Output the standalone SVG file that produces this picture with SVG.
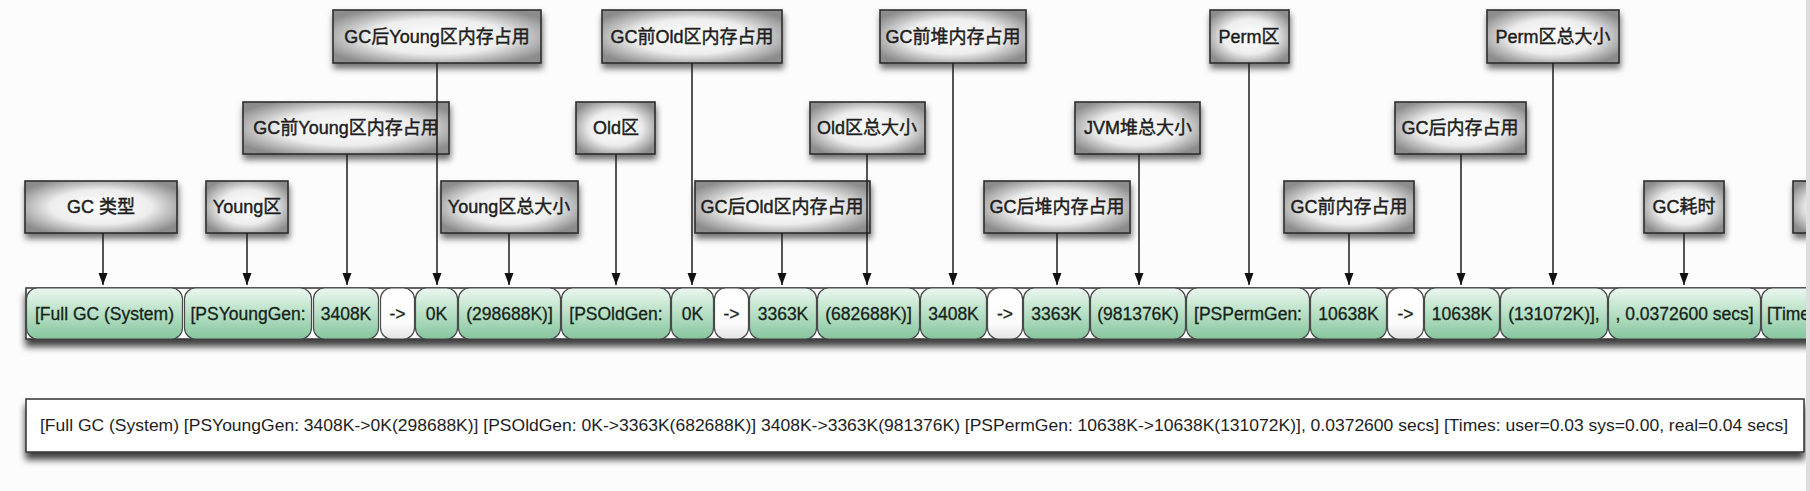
<svg xmlns="http://www.w3.org/2000/svg" width="1810" height="491" viewBox="0 0 1810 491">
<defs>
  <radialGradient id="boxGrad" cx="0.5" cy="0.5" r="0.6">
    <stop offset="0" stop-color="#ffffff"/>
    <stop offset="0.55" stop-color="#ededed"/>
    <stop offset="1" stop-color="#8c8c8c"/>
  </radialGradient>
  <linearGradient id="pillGrad" x1="0" y1="0" x2="0" y2="1">
    <stop offset="0" stop-color="#ecf7f0"/>
    <stop offset="0.35" stop-color="#c6e7d1"/>
    <stop offset="1" stop-color="#86c59d"/>
  </linearGradient>
  <linearGradient id="whiteGrad" x1="0" y1="0" x2="0" y2="1">
    <stop offset="0" stop-color="#ffffff"/>
    <stop offset="0.7" stop-color="#fbfbfb"/>
    <stop offset="1" stop-color="#e4e4e4"/>
  </linearGradient>
  <filter id="shadow" x="-10%" y="-20%" width="120%" height="160%">
    <feDropShadow dx="1" dy="5" stdDeviation="3" flood-color="#000" flood-opacity="0.55"/>
  </filter>
  <filter id="rowShadow" x="-2%" y="-20%" width="104%" height="160%">
    <feDropShadow dx="0" dy="7" stdDeviation="3.5" flood-color="#000" flood-opacity="0.75"/>
  </filter>
  <marker id="arrow" markerUnits="userSpaceOnUse" markerWidth="12" markerHeight="10" refX="12" refY="5" orient="auto" viewBox="0 0 12 10">
    <path d="M0,0.5 L12,5 L0,9.5 z" fill="#111"/>
  </marker>
  <clipPath id="page"><rect x="0" y="0" width="1806" height="491"/></clipPath>
  <style>
    .box { fill: url(#boxGrad); stroke: #2e2e2e; stroke-width: 1.6; filter: url(#shadow); }
    .lbl { font-family: "Liberation Sans", "Noto Sans CJK SC", sans-serif; font-size: 18px; fill: #1e1e1e; stroke: #1e1e1e; stroke-width: 0.45; text-anchor: middle; dominant-baseline: central; }
    .pill { fill: url(#pillGrad); stroke: #4a4a4a; stroke-width: 1.2; }
    .pillw { fill: url(#whiteGrad); stroke: #4a4a4a; stroke-width: 1.2; }
    .ptxt { font-family: "Liberation Sans", sans-serif; font-size: 17.5px; fill: #16241a; stroke: #16241a; stroke-width: 0.3; text-anchor: middle; dominant-baseline: central; }
    .conn { stroke: #1e1e1e; stroke-width: 1.5; fill: none; marker-end: url(#arrow); }
  </style>
</defs>
<rect x="0" y="0" width="1810" height="491" fill="#fcfcfc"/>
<rect x="1806" y="0" width="4" height="491" fill="#dedede"/>
<g clip-path="url(#page)">
  <!-- label nodes -->
  <g id="n-gc-after-young"><rect class="box" x="333" y="10" width="208" height="53"/><text class="lbl" x="437" y="37">GC后Young区内存占用</text></g>
  <g id="n-gc-before-old"><rect class="box" x="602" y="10" width="180" height="53"/><text class="lbl" x="692" y="37">GC前Old区内存占用</text></g>
  <g id="n-gc-before-heap"><rect class="box" x="880" y="10" width="146" height="53"/><text class="lbl" x="953" y="37">GC前堆内存占用</text></g>
  <g id="n-perm"><rect class="box" x="1210" y="10" width="79" height="53"/><text class="lbl" x="1249" y="37">Perm区</text></g>
  <g id="n-perm-total"><rect class="box" x="1487" y="10" width="132" height="53"/><text class="lbl" x="1553" y="37">Perm区总大小</text></g>

  <g id="n-gc-before-young"><rect class="box" x="243" y="102" width="206" height="52"/><text class="lbl" x="346" y="128">GC前Young区内存占用</text></g>
  <g id="n-old"><rect class="box" x="576" y="102" width="79" height="52"/><text class="lbl" x="616" y="128">Old区</text></g>
  <g id="n-old-total"><rect class="box" x="810" y="102" width="115" height="52"/><text class="lbl" x="867" y="128">Old区总大小</text></g>
  <g id="n-jvm-heap-total"><rect class="box" x="1075" y="102" width="125" height="52"/><text class="lbl" x="1138" y="128">JVM堆总大小</text></g>
  <g id="n-gc-after-mem"><rect class="box" x="1395" y="102" width="131" height="52"/><text class="lbl" x="1460" y="128">GC后内存占用</text></g>

  <g id="n-gc-type"><rect class="box" x="25" y="181" width="152" height="52"/><text class="lbl" x="101" y="207">GC 类型</text></g>
  <g id="n-young"><rect class="box" x="206" y="181" width="82" height="52"/><text class="lbl" x="247" y="207">Young区</text></g>
  <g id="n-young-total"><rect class="box" x="441" y="181" width="137" height="52"/><text class="lbl" x="509" y="207">Young区总大小</text></g>
  <g id="n-gc-after-old"><rect class="box" x="695" y="181" width="175" height="52"/><text class="lbl" x="782" y="207">GC后Old区内存占用</text></g>
  <g id="n-gc-after-heap"><rect class="box" x="984" y="181" width="146" height="52"/><text class="lbl" x="1057" y="207">GC后堆内存占用</text></g>
  <g id="n-gc-before-mem"><rect class="box" x="1284" y="181" width="130" height="52"/><text class="lbl" x="1349" y="207">GC前内存占用</text></g>
  <g id="n-gc-time"><rect class="box" x="1644" y="181" width="80" height="52"/><text class="lbl" x="1684" y="207">GC耗时</text></g>
  <g id="n-times"><rect class="box" x="1793" y="181" width="80" height="52"/></g>

  <!-- log token row -->
  <g id="n-log-row">
    <rect x="26" y="288" width="1800" height="51" fill="#ffffff" stroke="#333" stroke-width="1.5" filter="url(#rowShadow)"/>
    <rect class="pill" x="26.5" y="288" width="156" height="51" rx="11"/><text class="ptxt" x="104.5" y="314">[Full GC (System)</text>
    <rect class="pill" x="184.5" y="288" width="127" height="51" rx="11"/><text class="ptxt" x="248" y="314">[PSYoungGen:</text>
    <rect class="pill" x="313.5" y="288" width="65" height="51" rx="11"/><text class="ptxt" x="346" y="314">3408K</text>
    <rect class="pillw" x="380.5" y="288" width="34" height="51" rx="11"/><text class="ptxt" x="397.5" y="314">-&gt;</text>
    <rect class="pill" x="415.5" y="288" width="42" height="51" rx="11"/><text class="ptxt" x="436.5" y="314">0K</text>
    <rect class="pill" x="458.5" y="288" width="102" height="51" rx="11"/><text class="ptxt" x="509.5" y="314">(298688K)]</text>
    <rect class="pill" x="561.5" y="288" width="109" height="51" rx="11"/><text class="ptxt" x="616" y="314">[PSOldGen:</text>
    <rect class="pill" x="671.5" y="288" width="42" height="51" rx="11"/><text class="ptxt" x="692.5" y="314">0K</text>
    <rect class="pillw" x="714.5" y="288" width="34" height="51" rx="11"/><text class="ptxt" x="731.5" y="314">-&gt;</text>
    <rect class="pill" x="749.5" y="288" width="67" height="51" rx="11"/><text class="ptxt" x="783" y="314">3363K</text>
    <rect class="pill" x="817.5" y="288" width="102" height="51" rx="11"/><text class="ptxt" x="868.5" y="314">(682688K)]</text>
    <rect class="pill" x="920.5" y="288" width="66" height="51" rx="11"/><text class="ptxt" x="953.5" y="314">3408K</text>
    <rect class="pillw" x="987.5" y="288" width="35" height="51" rx="11"/><text class="ptxt" x="1005" y="314">-&gt;</text>
    <rect class="pill" x="1023.5" y="288" width="66" height="51" rx="11"/><text class="ptxt" x="1056.5" y="314">3363K</text>
    <rect class="pill" x="1090.5" y="288" width="95" height="51" rx="11"/><text class="ptxt" x="1138" y="314">(981376K)</text>
    <rect class="pill" x="1186.5" y="288" width="123" height="51" rx="11"/><text class="ptxt" x="1248" y="314">[PSPermGen:</text>
    <rect class="pill" x="1310.5" y="288" width="76" height="51" rx="11"/><text class="ptxt" x="1348.5" y="314">10638K</text>
    <rect class="pillw" x="1387.5" y="288" width="36" height="51" rx="11"/><text class="ptxt" x="1405.5" y="314">-&gt;</text>
    <rect class="pill" x="1424.5" y="288" width="75" height="51" rx="11"/><text class="ptxt" x="1462" y="314">10638K</text>
    <rect class="pill" x="1500.5" y="288" width="107" height="51" rx="11"/><text class="ptxt" x="1554" y="314">(131072K)],</text>
    <rect class="pill" x="1608.5" y="288" width="152" height="51" rx="11"/><text class="ptxt" x="1684.5" y="314">, 0.0372600 secs]</text>
    <rect class="pill" x="1761.5" y="288" width="200" height="51" rx="11"/><text class="ptxt" x="1767" y="314" style="text-anchor:start">[Times:</text>
  </g>

  <!-- full log line -->
  <g id="n-log-line">
    <rect x="26" y="399" width="1778" height="53" fill="#ffffff" stroke="#333" stroke-width="1.5" filter="url(#rowShadow)"/>
    <text x="40" y="425" font-family="Liberation Sans, sans-serif" font-size="17" fill="#1e1e1e" dominant-baseline="central" textLength="1748" lengthAdjust="spacingAndGlyphs">[Full GC (System) [PSYoungGen: 3408K-&gt;0K(298688K)] [PSOldGen: 0K-&gt;3363K(682688K)] 3408K-&gt;3363K(981376K) [PSPermGen: 10638K-&gt;10638K(131072K)], 0.0372600 secs] [Times: user=0.03 sys=0.00, real=0.04 secs]</text>
  </g>

  <!-- connectors -->
  <g id="connectors">
    <line class="conn" x1="437" y1="63" x2="437" y2="285"/>
    <line class="conn" x1="692" y1="63" x2="692" y2="285"/>
    <line class="conn" x1="953" y1="63" x2="953" y2="285"/>
    <line class="conn" x1="1249" y1="63" x2="1249" y2="285"/>
    <line class="conn" x1="1553" y1="63" x2="1553" y2="285"/>
    <line class="conn" x1="347" y1="154" x2="347" y2="285"/>
    <line class="conn" x1="616" y1="154" x2="616" y2="285"/>
    <line class="conn" x1="867" y1="154" x2="867" y2="285"/>
    <line class="conn" x1="1139" y1="154" x2="1139" y2="285"/>
    <line class="conn" x1="1461" y1="154" x2="1461" y2="285"/>
    <line class="conn" x1="103" y1="233" x2="103" y2="285"/>
    <line class="conn" x1="247" y1="233" x2="247" y2="285"/>
    <line class="conn" x1="509" y1="233" x2="509" y2="285"/>
    <line class="conn" x1="782" y1="233" x2="782" y2="285"/>
    <line class="conn" x1="1057" y1="233" x2="1057" y2="285"/>
    <line class="conn" x1="1349" y1="233" x2="1349" y2="285"/>
    <line class="conn" x1="1684" y1="233" x2="1684" y2="285"/>
  </g>
</g>
</svg>
